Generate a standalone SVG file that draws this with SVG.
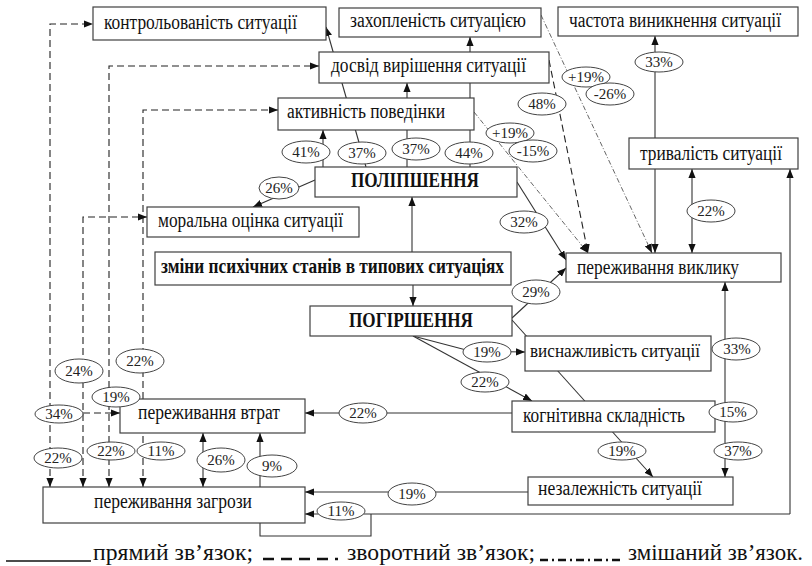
<svg xmlns="http://www.w3.org/2000/svg" width="812" height="566" viewBox="0 0 812 566">
<style>
.bx{fill:#fff;stroke:#404040;stroke-width:1.2}
.t{font-family:"Liberation Serif","Times New Roman",serif;font-size:20px;fill:#111}
.tb{font-family:"Liberation Serif","Times New Roman",serif;font-size:20px;font-weight:bold;fill:#111}
.s{fill:none;stroke:#333;stroke-width:1.1}
.d{fill:none;stroke:#222;stroke-width:1.1;stroke-dasharray:7 4}
.m{fill:none;stroke:#555;stroke-width:0.9;stroke-dasharray:5 2 1 2}
.e{fill:#fff;stroke:#444;stroke-width:1}
.p{font-family:"Liberation Serif","Times New Roman",serif;font-size:15px;fill:#222;text-anchor:middle}
.lg{font-family:"Liberation Serif","Times New Roman",serif;font-size:24px;fill:#111}
</style>
<defs>
<marker id="a" viewBox="0 0 10 8" refX="10" refY="4" markerWidth="9" markerHeight="7.5" markerUnits="userSpaceOnUse" orient="auto-start-reverse">
<path d="M0,0 L10,4 L0,8 z" fill="#111"/>
</marker>
</defs>
<rect width="812" height="566" fill="#fff"/>
<g id="connectors">
<path class="s" d="M323,167 V130" marker-end="url(#a)"/>
<path class="s" d="M366,167 L326,27" marker-end="url(#a)"/>
<path class="s" d="M407,167 V83" marker-end="url(#a)"/>
<path class="s" d="M470,167 V37" marker-end="url(#a)"/>
<path class="s" d="M315,180 L253,207" marker-end="url(#a)"/>
<path class="s" d="M412,252 V197" marker-end="url(#a)"/>
<path class="s" d="M413,285 V306" marker-end="url(#a)"/>
<path class="s" d="M517,182 L566,260" marker-end="url(#a)"/>
<path class="s" d="M512,318 L566,268" marker-end="url(#a)"/>
<path class="s" d="M512,320 L653,477" marker-end="url(#a)"/>
<path class="s" d="M413,336 L470,351 L525,352" marker-end="url(#a)"/>
<path class="s" d="M413,336 L532,401" marker-end="url(#a)"/>
<path class="s" d="M512,413 H305" marker-end="url(#a)"/>
<path class="s" d="M725,282 V477" marker-start="url(#a)" marker-end="url(#a)"/>
<path class="s" d="M655,138 V36" marker-end="url(#a)"/>
<path class="s" d="M655,169 V253" marker-end="url(#a)"/>
<path class="s" d="M692,169 V253" marker-start="url(#a)" marker-end="url(#a)"/>
<path class="s" d="M528,492 H305" marker-end="url(#a)"/>
<path class="s" d="M790,514 V169" marker-end="url(#a)"/>
<path class="s" d="M790,514 H305" marker-end="url(#a)"/>
<path class="s" d="M371,514 V536 H260 V523"/>
<path class="s" d="M203,433 V487" marker-start="url(#a)" marker-end="url(#a)"/>
<path class="s" d="M260,487 V433" marker-end="url(#a)"/>
<path class="d" d="M50,487 V24 H93" marker-start="url(#a)" marker-end="url(#a)"/>
<path class="d" d="M109,487 V66 H319" marker-start="url(#a)" marker-end="url(#a)"/>
<path class="d" d="M143,487 V110 H278" marker-start="url(#a)" marker-end="url(#a)"/>
<path class="d" d="M83,487 V217 H147" marker-start="url(#a)" marker-end="url(#a)"/>
<path class="d" d="M50,413 H120" marker-end="url(#a)"/>
<path class="d" d="M549,60 L588,253" marker-end="url(#a)"/>
<path class="m" d="M541,15 L652,253" marker-end="url(#a)"/>
<path class="m" d="M474,112 L588,253" marker-end="url(#a)"/>
</g>
<g id="n1"><rect class="bx" x="93" y="7" width="233" height="33"/><text class="t" x="104" y="29" textLength="193" lengthAdjust="spacingAndGlyphs">контрольованість ситуації</text></g>
<g id="n2"><rect class="bx" x="339" y="8" width="202" height="29"/><text class="t" x="350" y="27" textLength="176" lengthAdjust="spacingAndGlyphs">захопленість ситуацією</text></g>
<g id="n3"><rect class="bx" x="558" y="7" width="240" height="29"/><text class="t" x="569" y="27" textLength="212" lengthAdjust="spacingAndGlyphs">частота виникнення ситуації</text></g>
<g id="n4"><rect class="bx" x="319" y="52" width="230" height="31"/><text class="t" x="331" y="72" textLength="195" lengthAdjust="spacingAndGlyphs">досвід вирішення ситуації</text></g>
<g id="n5"><rect class="bx" x="278" y="98" width="196" height="32"/><text class="t" x="287" y="118" textLength="158" lengthAdjust="spacingAndGlyphs">активність поведінки</text></g>
<g id="n6"><rect class="bx" x="315" y="167" width="202" height="30"/><text class="tb" x="351" y="187" textLength="128" lengthAdjust="spacingAndGlyphs">ПОЛІПШЕННЯ</text></g>
<g id="n7"><rect class="bx" x="147" y="207" width="212" height="30"/><text class="t" x="158" y="227" textLength="185" lengthAdjust="spacingAndGlyphs">моральна оцінка ситуації</text></g>
<g id="n8"><rect class="bx" x="155" y="252" width="356" height="33"/><text class="tb" x="161" y="273" textLength="343" lengthAdjust="spacingAndGlyphs">зміни психічних станів в типових ситуаціях</text></g>
<g id="n9"><rect class="bx" x="310" y="306" width="202" height="30"/><text class="tb" x="349" y="327" textLength="124" lengthAdjust="spacingAndGlyphs">ПОГІРШЕННЯ</text></g>
<g id="n10"><rect class="bx" x="566" y="253" width="215" height="29"/><text class="t" x="577" y="274" textLength="162" lengthAdjust="spacingAndGlyphs">переживання виклику</text></g>
<g id="n11"><rect class="bx" x="629" y="138" width="169" height="31"/><text class="t" x="640" y="160" textLength="142" lengthAdjust="spacingAndGlyphs">тривалість ситуації</text></g>
<g id="n12"><rect class="bx" x="525" y="336" width="186" height="35"/><text class="t" x="530" y="357" style="font-size:18px" textLength="170" lengthAdjust="spacingAndGlyphs">виснажливість ситуації</text></g>
<g id="n13"><rect class="bx" x="512" y="401" width="203" height="31"/><text class="t" x="523" y="422" textLength="162" lengthAdjust="spacingAndGlyphs">когнітивна складність</text></g>
<g id="n14"><rect class="bx" x="528" y="477" width="205" height="28"/><text class="t" x="538" y="495" textLength="164" lengthAdjust="spacingAndGlyphs">незалежність ситуації</text></g>
<g id="n15"><rect class="bx" x="120" y="399" width="185" height="34"/><text class="t" x="138" y="419" textLength="142" lengthAdjust="spacingAndGlyphs">переживання втрат</text></g>
<g id="n16"><rect class="bx" x="43" y="487" width="262" height="36"/><text class="t" x="94" y="508" textLength="158" lengthAdjust="spacingAndGlyphs">переживання загрози</text></g>
<g id="labels">
<ellipse class="e" cx="306" cy="152" rx="24" ry="11"/><text class="p" x="306" y="157">41%</text>
<ellipse class="e" cx="362" cy="153" rx="24" ry="11"/><text class="p" x="362" y="158">37%</text>
<ellipse class="e" cx="416" cy="149" rx="24" ry="11"/><text class="p" x="416" y="154">37%</text>
<ellipse class="e" cx="469" cy="153" rx="24" ry="11"/><text class="p" x="469" y="158">44%</text>
<ellipse class="e" cx="279" cy="188" rx="20" ry="11"/><text class="p" x="279" y="193">26%</text>
<ellipse class="e" cx="510" cy="133" rx="24" ry="10"/><text class="p" x="510" y="138">+19%</text>
<ellipse class="e" cx="533" cy="151" rx="24" ry="11"/><text class="p" x="533" y="156">-15%</text>
<ellipse class="e" cx="542" cy="104" rx="24" ry="11"/><text class="p" x="542" y="109">48%</text>
<ellipse class="e" cx="586" cy="77" rx="24" ry="10"/><text class="p" x="586" y="82">+19%</text>
<ellipse class="e" cx="610" cy="94" rx="24" ry="11"/><text class="p" x="610" y="99">-26%</text>
<ellipse class="e" cx="659" cy="62" rx="24" ry="10"/><text class="p" x="659" y="67">33%</text>
<ellipse class="e" cx="711" cy="211" rx="24" ry="11"/><text class="p" x="711" y="216">22%</text>
<ellipse class="e" cx="524" cy="222" rx="24" ry="11"/><text class="p" x="524" y="227">32%</text>
<ellipse class="e" cx="536" cy="292" rx="24" ry="12"/><text class="p" x="536" y="297">29%</text>
<ellipse class="e" cx="487" cy="352" rx="24" ry="10"/><text class="p" x="487" y="357">19%</text>
<ellipse class="e" cx="485" cy="382" rx="24" ry="10"/><text class="p" x="485" y="387">22%</text>
<ellipse class="e" cx="736" cy="349" rx="24" ry="11"/><text class="p" x="737" y="354">33%</text>
<ellipse class="e" cx="733" cy="412" rx="24" ry="10"/><text class="p" x="733" y="417">15%</text>
<ellipse class="e" cx="738" cy="451" rx="24" ry="9"/><text class="p" x="738" y="456">37%</text>
<ellipse class="e" cx="363" cy="413" rx="24" ry="10"/><text class="p" x="363" y="418">22%</text>
<ellipse class="e" cx="622" cy="451" rx="24" ry="9"/><text class="p" x="622" y="456">19%</text>
<ellipse class="e" cx="412" cy="494" rx="24" ry="11"/><text class="p" x="412" y="499">19%</text>
<ellipse class="e" cx="341" cy="511" rx="24" ry="9"/><text class="p" x="341" y="516">11%</text>
<ellipse class="e" cx="221" cy="460" rx="24" ry="12"/><text class="p" x="221" y="465">26%</text>
<ellipse class="e" cx="272" cy="466" rx="25" ry="11"/><text class="p" x="272" y="471">9%</text>
<ellipse class="e" cx="79" cy="371" rx="24" ry="12"/><text class="p" x="79" y="376">24%</text>
<ellipse class="e" cx="140" cy="361" rx="24" ry="12"/><text class="p" x="140" y="366">22%</text>
<ellipse class="e" cx="116" cy="397" rx="24" ry="10"/><text class="p" x="116" y="402">19%</text>
<ellipse class="e" cx="59" cy="414" rx="24" ry="9"/><text class="p" x="59" y="419">34%</text>
<ellipse class="e" cx="58" cy="458" rx="24" ry="10"/><text class="p" x="58" y="463">22%</text>
<ellipse class="e" cx="111" cy="451" rx="24" ry="9"/><text class="p" x="111" y="456">22%</text>
<ellipse class="e" cx="161" cy="451" rx="24" ry="9"/><text class="p" x="161" y="456">11%</text>
</g>
<g id="legend">
<path d="M6,561 H91" stroke="#111" stroke-width="1.6"/>
<text class="lg" x="93" y="560" textLength="160" lengthAdjust="spacingAndGlyphs">прямий зв’язок;</text>
<path d="M263,559 H338" stroke="#111" stroke-width="2.4" stroke-dasharray="11 7"/>
<text class="lg" x="347" y="560" textLength="188" lengthAdjust="spacingAndGlyphs">зворотний зв’язок;</text>
<path d="M540,560 H624" stroke="#111" stroke-width="2.4" stroke-dasharray="8 4 2 4"/>
<text class="lg" x="628" y="560" textLength="175" lengthAdjust="spacingAndGlyphs">змішаний зв’язок.</text>
</g>
</svg>
